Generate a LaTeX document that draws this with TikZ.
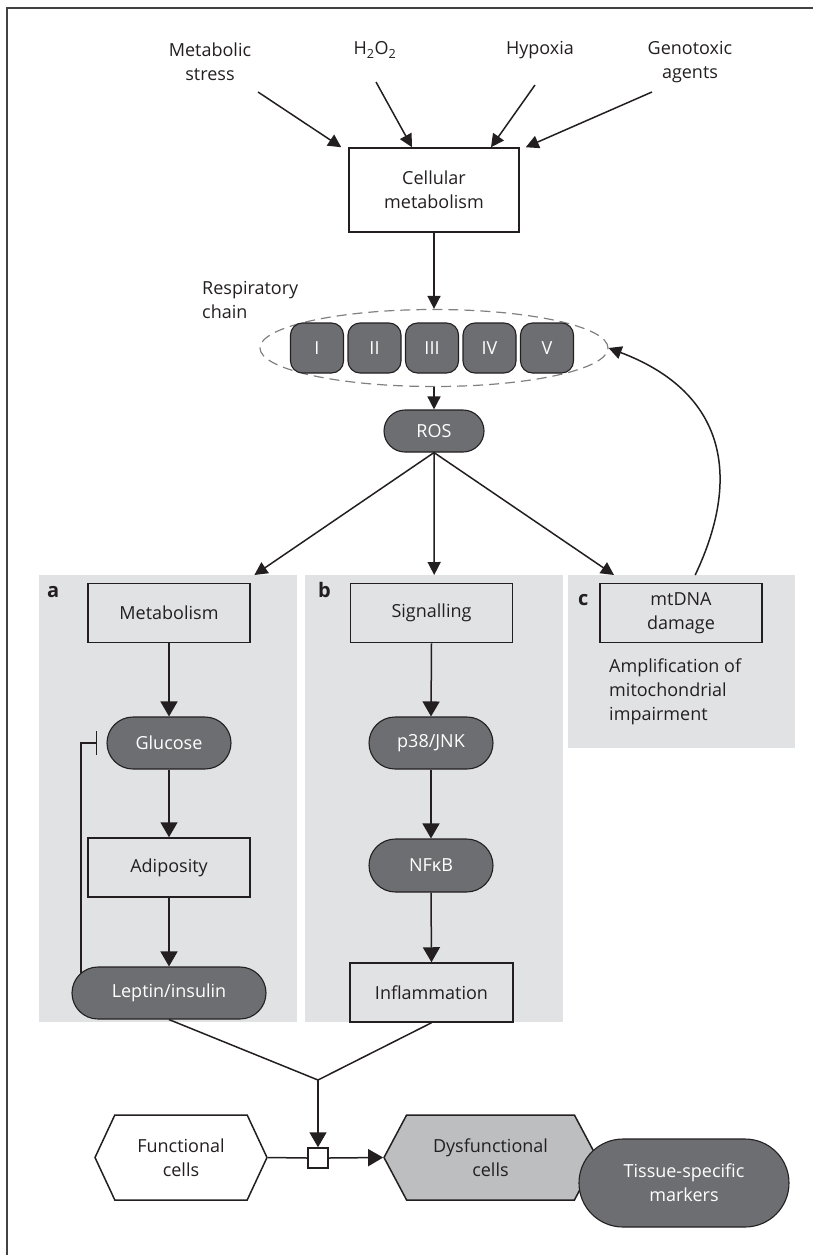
\documentclass[tikz,border=0pt]{standalone}
\usepackage{fontspec}
\setmainfont{Open Sans}
\usetikzlibrary{arrows.meta,shapes.misc,shapes.geometric,shapes.symbols}
\definecolor{nodegray}{RGB}{109,110,113}
\definecolor{panelgray}{RGB}{225,226,228}
\definecolor{cellgray}{RGB}{189,190,192}
\definecolor{ink}{RGB}{35,31,32}
\definecolor{dashgray}{RGB}{128,128,128}

\begin{document}
\begin{tikzpicture}[x=1pt,y=-1pt,
  font=\fontsize{18}{24}\selectfont,
  conn/.style={draw=ink,line width=1.5pt},
  arr/.style={conn,-{Triangle[length=13pt,width=13pt]}},
  bigarr/.style={conn,-{Triangle[length=15pt,width=17pt]}},
  inhib/.style={conn,-{Bar[width=24pt,line width=1.5pt]}},
  plain/.style={align=center,text=ink,inner sep=0pt},
  whitebox/.style={plain,draw=ink,line width=1.5pt,minimum width=162pt,minimum height=59pt},
  pill/.style={rounded rectangle,fill=nodegray,draw=ink,line width=1.1pt,text=white,align=center,inner sep=0pt,minimum height=52pt},
  complex/.style={rounded corners=12pt,fill=nodegray,draw=ink,line width=1.1pt,text=white,minimum width=53pt,minimum height=50pt,inner sep=0pt},
  panel/.style={fill=panelgray,inner sep=0pt,anchor=north west},
  hexa/.style={signal,signal to=west and east,draw=ink,line width=1.5pt,align=center,text=ink,inner sep=0pt,minimum height=85pt},
  tag/.style={font=\fontsize{20}{24}\selectfont\bfseries,text=ink,anchor=base west,inner sep=0pt}
]
\useasboundingbox (0,0) rectangle (813,1255);

% page frame
\draw[draw=ink!85,line width=1.5pt] (7,1255) -- (7,8) -- (813,8);

% shaded panels a, b, c
\node[panel,minimum width=258pt,minimum height=447pt] (pa) at (39,575) {};
\node[panel,minimum width=258pt,minimum height=447pt] (pb) at (305,575) {};
\node[panel,minimum width=227pt,minimum height=173pt] (pc) at (568,575) {};

% stress inputs
\node[plain] (ms) at (210,62) {Metabolic\\stress};
\node[plain] (hp) at (375,50) {H\textsubscript{2}O\textsubscript{2}};
\node[plain] (hx) at (540,50) {Hypoxia};
\node[plain] (gt) at (690,62) {Genotoxic\\agents};
\node[whitebox,minimum width=170pt,minimum height=84pt] (cm) at (434,190) {Cellular\\metabolism};

\coordinate (msA) at (258,92);
\coordinate (hpA) at (376,82);
\coordinate (hxA) at (535,85);
\coordinate (gtA) at (652,92);
\draw[arr] (msA) -- ([xshift=-7pt]cm.north west);
\draw[arr] (hpA) -- ([xshift=-22pt]cm.north);
\draw[arr] (hxA) -- ([xshift=57pt]cm.north);
\draw[arr] (gtA) -- ([xshift=6pt]cm.north east);

% respiratory chain
\node[plain,align=left,anchor=north west] (rcl) at (202,281) {Respiratory\\chain};
\node[ellipse,draw=dashgray,dash pattern=on 10pt off 6pt,line width=1.2pt,minimum width=348pt,minimum height=77pt,inner sep=0pt] (rc) at (434,348) {};
\foreach \n/\x/\l in {1/317/I,2/374.5/II,3/432/III,4/489.5/IV,5/547/V}
  \node[complex] (c\n) at (\x,348) {\l};
\draw[arr] (cm.south) -- (rc.north);

\node[pill,minimum width=100pt,minimum height=42pt] (ros) at (434,431) {ROS};
\draw[arr] (rc.south) -- (ros.north);

\draw[arr] (ros.south) -- ([xshift=-43pt]pa.north east);
\draw[arr] (ros.south) -- (pb.north);
\draw[arr] (ros.south) -- ([xshift=46pt]pc.north west);

% feedback from mtDNA damage to the chain
\draw[arr] ([xshift=13.5pt]pc.north) .. controls (745,470) and (720,390) .. (rc.east);

% panel labels
\node[tag] (ta) at (47,597) {a};
\node[tag] (tb) at (318,597) {b};
\node[tag] (tc) at (578,605) {c};

% panel contents
\node[whitebox] (met) at (169,613) {Metabolism};
\node[whitebox] (sig) at (431.5,613) {Signalling};
\node[whitebox] (mtd) at (681,613) {mtDNA\\damage};
\node[plain,align=left,anchor=north west] (amp) at (609,659) {Amplification of\\mitochondrial\\impairment};

\node[pill,minimum width=124pt] (glu) at (169,743) {Glucose};
\node[pill,minimum width=124pt] (p38) at (431,743) {p38/JNK};
\node[whitebox] (adi) at (169,867.5) {Adiposity};
\node[pill,minimum width=124pt,minimum height=53pt] (nfk) at (431,865.5) {NFκB};
\node[pill,minimum width=194pt] (lep) at (169,993) {Leptin/insulin};
\node[whitebox,minimum width=163pt] (inf) at (431.5,992.5) {Inflammation};

\draw[bigarr] (met.south) -- (glu.north);
\draw[bigarr] (glu.south) -- (adi.north);
\draw[bigarr] (adi.south) -- (lep.north);
\draw[bigarr] (sig.south) -- (p38.north);
\draw[bigarr] (p38.south) -- (nfk.north);
\draw[bigarr] (nfk.south) -- (inf.north);
\draw[inhib] (lep.167) |- ([xshift=-9pt]glu.west);

% cell fate
\coordinate (jn) at (318,1080);
\draw[conn] (lep.south) -- (jn) -- (inf.south);
\node[draw=ink,fill=white,line width=1.5pt,minimum size=20pt,inner sep=0pt] (sq) at (318,1158) {};
\draw[bigarr] (jn) -- (sq.north);
\node[hexa,fill=white,minimum width=172pt,signal pointer angle=130] (fc) at (181,1157.5) {Functional\\cells};
\node[hexa,fill=cellgray,minimum width=213pt,signal pointer angle=124] (dc) at (490.5,1157.5) {Dysfunctional\\cells};
\node[pill,minimum width=210pt,minimum height=88pt] (tsm) at (684,1183) {Tissue-specific\\markers};
\draw[conn] (fc.east) -- (sq.west);
\draw[bigarr] (sq.east) -- (dc.west);
\end{tikzpicture}
\end{document}
